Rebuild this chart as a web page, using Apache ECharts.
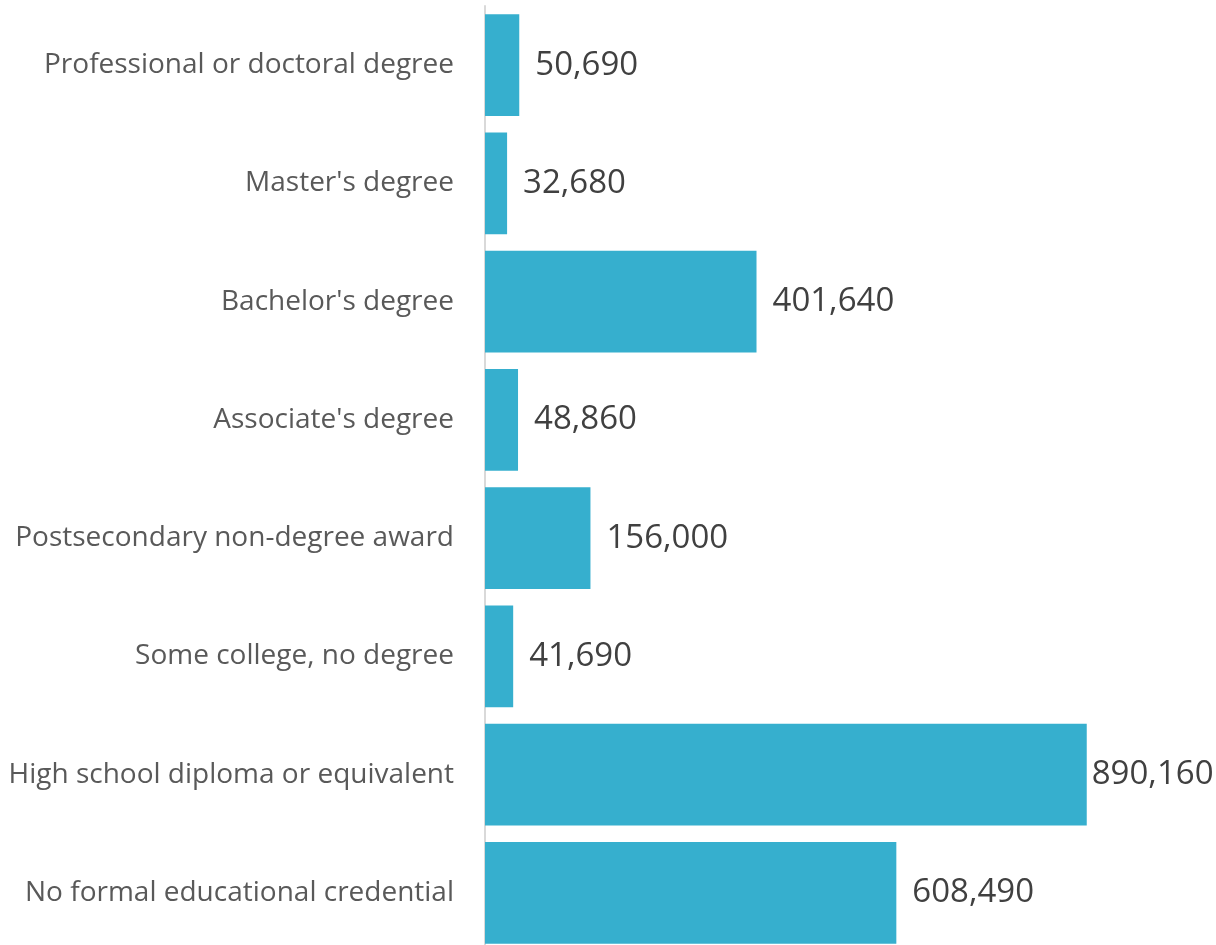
<!DOCTYPE html>
<html>
<head>
<meta charset="utf-8">
<script src="https://cdn.jsdelivr.net/npm/echarts@6/dist/echarts.min.js"></script>
<style>
  html, body { margin: 0; padding: 0; background: #ffffff; }
  #chart { width: 1216px; height: 945px; }
</style>
</head>
<body>
<div id="chart"></div>
<script>
// Employment by typical education needed for entry (top to bottom)
const categories = [
  "Professional or doctoral degree",
  "Master's degree",
  "Bachelor's degree",
  "Associate's degree",
  "Postsecondary non-degree award",
  "Some college, no degree",
  "High school diploma or equivalent",
  "No formal educational credential"
];
const values = [50690, 32680, 401640, 48860, 156000, 41690, 890160, 608490];

const fmt = v => v.toLocaleString('en-US');
const maxVal = Math.max(...values);

const chart = echarts.init(document.getElementById('chart'), null, { renderer: 'canvas' });
chart.setOption({
  animation: false,
  // plot area runs slightly past the bottom edge so the last bar is clipped
  grid: {
    left: 485, right: 55, top: 6, height: 946,
    containLabel: false,
    outerBoundsMode: 'none'
  },
  xAxis: {
    type: 'value',
    min: 0,
    max: 1000000,
    show: false
  },
  yAxis: {
    type: 'category',
    inverse: true,
    data: categories,
    axisLine: { show: true, lineStyle: { color: '#d9d9d9', width: 2 } },
    axisTick: { show: false },
    axisLabel: {
      margin: 31,
      fontFamily: 'Open Sans',
      fontSize: 28,
      color: '#595959'
    }
  },
  series: [{
    type: 'bar',
    barCategoryGap: '14%',
    itemStyle: { color: '#36afce' },
    data: values.map(v => ({
      value: v,
      label: { distance: v === maxVal ? 5 : 16 }
    })),
    label: {
      show: true,
      position: 'right',
      fontFamily: 'Open Sans',
      fontSize: 33,
      color: '#404040',
      formatter: p => fmt(p.value)
    }
  }]
});
</script>
</body>
</html>
